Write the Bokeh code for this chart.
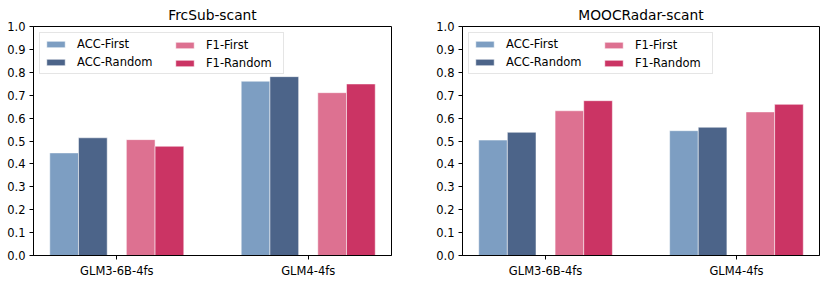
from bokeh.plotting import figure
from bokeh.models import ColumnDataSource, FixedTicker, Legend, LegendItem, Range1d
from bokeh.layouts import row
from bokeh.transform import dodge
from bokeh.embed import file_html
from bokeh.resources import INLINE

models = ["GLM3-6B-4fs", "GLM4-4fs"]
series = ["ACC-First", "ACC-Random", "F1-First", "F1-Random"]

frcsub_acc_first = [0.448, 0.761]
frcsub_acc_random = [0.514, 0.781]
frcsub_f1_first = [0.506, 0.711]
frcsub_f1_random = [0.477, 0.749]

mooc_acc_first = [0.504, 0.545]
mooc_acc_random = [0.538, 0.560]
mooc_f1_first = [0.632, 0.627]
mooc_f1_random = [0.676, 0.660]

y_ticks = [0.0, 0.1, 0.2, 0.3, 0.4, 0.5, 0.6, 0.7, 0.8, 0.9, 1.0]

colors = ["#7d9ec2", "#4c6489", "#dd7191", "#cb3464"]
offsets = [-0.275, -0.125, 0.125, 0.275]
BAR_W = 0.15
FONT = "DejaVu Sans"
FRAME_W = 358
FRAME_H = 229


def style_legend(leg):
    leg.label_text_font = FONT
    leg.label_text_font_size = "11.5px"
    leg.label_text_color = "black"
    leg.glyph_width = 23
    leg.glyph_height = 8
    leg.label_height = 12
    leg.label_standoff = 10
    leg.spacing = 4
    leg.padding = 4


def make_panel(title, vals, frame_w, border_left, border_right):
    src = ColumnDataSource(dict(
        x=list(range(len(models))),
        s0=vals[0], s1=vals[1], s2=vals[2], s3=vals[3],
    ))
    p = figure(frame_width=frame_w, frame_height=FRAME_H, output_backend="svg",
               toolbar_location=None,
               x_range=Range1d(-0.435, 1.435), y_range=Range1d(0, 1),
               min_border_left=border_left, min_border_right=border_right,
               min_border_top=20, min_border_bottom=19)
    p.title.text = title
    p.title.align = "center"
    p.title.text_font = FONT
    p.title.text_font_style = "normal"
    p.title.text_font_size = "13.8px"
    p.title.text_color = "black"
    p.title.standoff = 8
    items = []
    for i, name in enumerate(series):
        r = p.vbar(x=dodge("x", offsets[i]), top="s%d" % i, width=BAR_W, source=src,
                   fill_color=colors[i], line_color="white", line_alpha=0.5, line_width=1)
        items.append(LegendItem(label=name, renderers=[r]))
    p.grid.visible = False
    p.outline_line_color = "black"
    p.outline_line_width = 1
    p.xaxis.ticker = FixedTicker(ticks=list(range(len(models))))
    p.xaxis.major_label_overrides = {i: m for i, m in enumerate(models)}
    p.yaxis.ticker = FixedTicker(ticks=y_ticks)
    p.yaxis.major_label_overrides = {t: "%.1f" % t for t in y_ticks}
    for ax in (p.xaxis[0], p.yaxis[0]):
        ax.axis_label = None
        ax.axis_label_standoff = 0
        ax.major_label_text_font = FONT
        ax.major_label_text_font_size = "11.5px"
        ax.major_label_text_color = "black"
        ax.axis_line_color = "black"
        ax.major_tick_line_color = "black"
        ax.major_tick_in = 0
        ax.major_tick_out = 4
        ax.minor_tick_line_color = None
        ax.major_label_standoff = 4

    # first column (with the legend frame spanning both columns)
    leg1 = Legend(items=items[:2], location="top_left")
    style_legend(leg1)
    leg1.label_width = 202
    leg1.margin = 6
    leg1.border_line_color = "#cccccc"
    leg1.background_fill_alpha = 0.8
    p.add_layout(leg1, "center")

    # second column
    leg2 = Legend(items=items[2:], location=(140, FRAME_H - 6 - 38))
    style_legend(leg2)
    leg2.margin = 0
    leg2.border_line_color = None
    leg2.background_fill_alpha = 0
    p.add_layout(leg2, "center")
    return p


p1 = make_panel("FrcSub-scant",
                [frcsub_acc_first, frcsub_acc_random, frcsub_f1_first, frcsub_f1_random],
                FRAME_W, 33, 27)
p2 = make_panel("MOOCRadar-scant",
                [mooc_acc_first, mooc_acc_random, mooc_f1_first, mooc_f1_random],
                FRAME_W - 1, 44, 1)

layout = row(p1, p2)
open("out.html", "w").write(file_html(layout, INLINE))
